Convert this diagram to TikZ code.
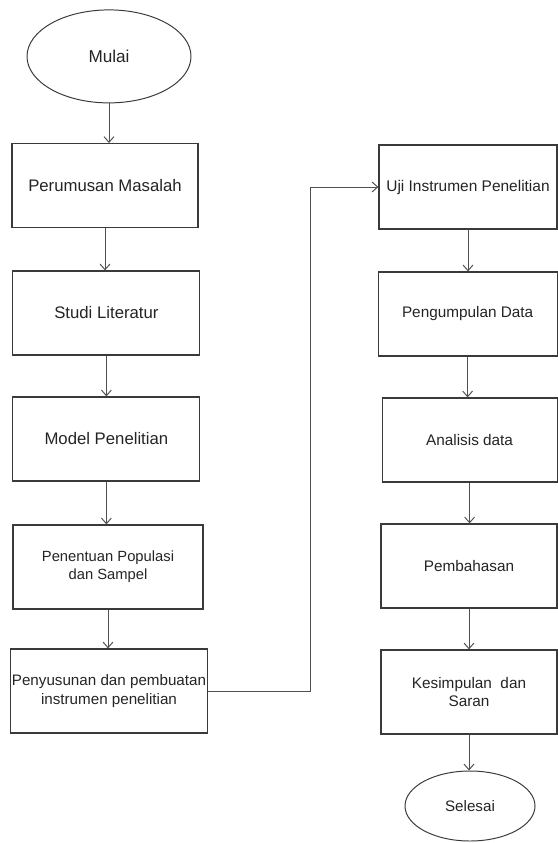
\documentclass[tikz,border=0pt]{standalone}
\usepackage{fontspec}
\setmainfont{Liberation Sans}
\usetikzlibrary{arrows.meta, positioning, shapes.geometric}
\definecolor{edge}{RGB}{58, 58, 58}
\definecolor{wire}{RGB}{80, 80, 80}
\definecolor{ink}{RGB}{36, 36, 36}

\begin{document}
\begin{tikzpicture}[
        box/.style={draw=edge, line width=0.8pt, text=ink, minimum height=2.1cm, align=center, inner sep=1pt},
        term/.style={ellipse, draw=edge, line width=0.7pt, text=ink, inner sep=0pt},
        flow/.style={draw=wire, line width=0.7pt, -{Straight Barb[length=4pt, width=7pt]}}]
        \useasboundingbox (0,0) rectangle (13.95,-21.075);
        \node[term, minimum width=4.1cm, minimum height=2.325cm, font=\fontsize{12.2}{14}\selectfont] (mulai) at (2.725,-1.41) {Mulai};
        \foreach \id/\x/\y/\w/\sz/\lbl in {
            rumus/2.625/-4.64/4.65/11.9/{Perumusan Masalah},
            studi/2.66/-7.825/4.675/11.9/{Studi Literatur},
            model/2.66/-10.975/4.675/11.9/{Model Penelitian},
            popul/2.7/-14.175/4.75/10.5/{Penentuan Populasi\\dan Sampel},
            susun/2.725/-17.275/4.9/10.8/{Penyusunan dan pembuatan\\instrumen penelitian},
            uji/11.7/-4.675/4.45/11/{Uji Instrumen Penelitian},
            kumpul/11.69/-7.85/4.475/10.9/{Pengumpulan Data},
            analisis/11.74/-11/4.375/10.9/{Analisis data},
            bahas/11.725/-14.15/4.4/10.9/{Pembahasan},
            simpul/11.725/-17.3/4.4/10.9/{Kesimpulan\ \ dan\\Saran}}
        {
            \node[box, minimum width=\w cm, font=\fontsize{\sz}{13}\selectfont] (\id) at (\x,\y) {\lbl};
        }
        \node[term, minimum width=3.25cm, minimum height=1.75cm, font=\fontsize{10.8}{13}\selectfont] (selesai) at (11.75,-20.15) {Selesai};
        % vertical flow
        \foreach \a/\b in {mulai/rumus, rumus/studi, studi/model, model/popul, popul/susun,
            uji/kumpul, kumpul/analisis, analisis/bahas, bahas/simpul, simpul/selesai}
            \draw[flow] (\a.south) -- (\a.south |- \b.north);
        % jump to second column
        \coordinate (turn) at (7.75,-4.675);
        \draw[flow] (susun.east) -| (turn) -- (uji.west);
\end{tikzpicture}
\end{document}
